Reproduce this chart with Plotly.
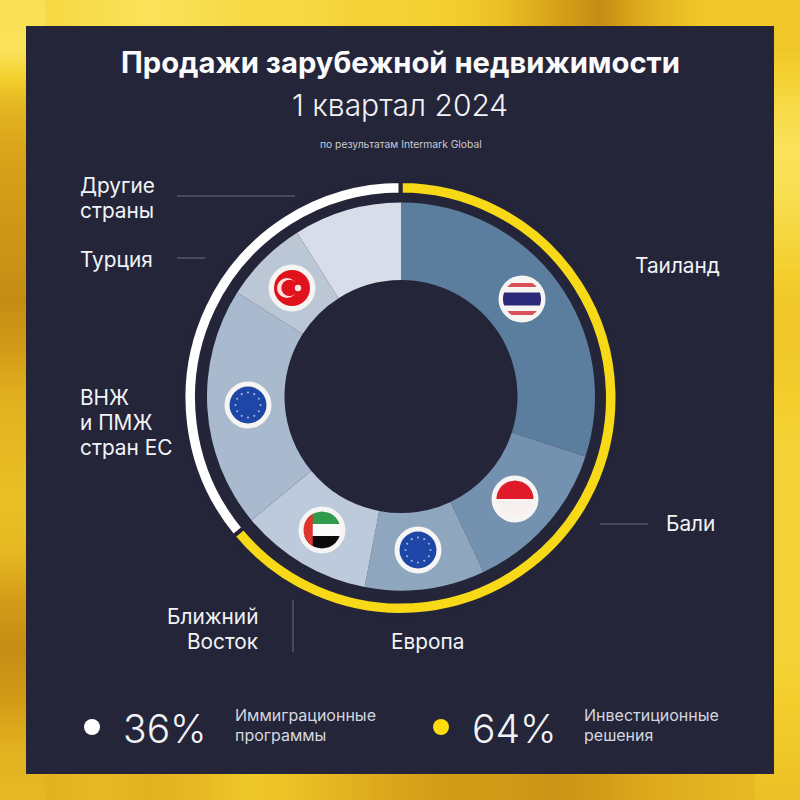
import math
import plotly.graph_objects as go

# ---------- data ----------
segment_names = ["Таиланд", "Бали", "Европа", "Ближний Восток", "ВНЖ и ПМЖ стран ЕС", "Турция", "Другие страны"]
segment_values = [30, 13, 10, 11, 20, 7, 9]
segment_colors = ["#5B7D9E", "#7492B0", "#8FA6BF", "#BCCADB", "#A9BACF", "#BBC7D5", "#D7DEE9"]
ring_names = ["Инвестиционные решения", "Иммиграционные программы"]
ring_values = [64, 36]
ring_colors = ["#F7D917", "#FFFFFF"]

# brightness of the gold frame, read along each edge every 50 px
frame_positions = list(range(0, 801, 50))
frame_top = [.82, .75, .8, .85, .8, .75, .75, .7, .7, .65, .55, .35, .2, .45, .6, .6, .6]
frame_bottom = [.48, .45, .5, .45, .5, .6, .55, .45, .35, .3, .3, .25, .3, .4, .45, .5, .55]
frame_left = [.82, .85, .5, .35, .3, .25, .2, .3, .45, .5, .55, .5, .3, .2, .3, .45, .5]
frame_right = [.6, .6, .75, .85, .8, .7, .6, .6, .65, .7, .7, .7, .7, .7, .65, .6, .55]

PANEL = "#242539"
FONT = "Inter"
TXT = "#F2F3F6"
GOLD_SCALE = [[0, "#A96E0C"], [.35, "#D9A31A"], [.65, "#F3CE2C"], [1, "#FFF27E"]]

fig = go.Figure()


def strip(x, y, z):
    fig.add_trace(go.Heatmap(x=x, y=y, z=z, zmin=0, zmax=1, zsmooth="best", colorscale=GOLD_SCALE,
                             showscale=False, hoverinfo="skip"))


strip(frame_positions, [0, 30], [frame_top, frame_top])
strip(frame_positions, [770, 800], [frame_bottom, frame_bottom])
strip([0, 30], frame_positions, [[v, v] for v in frame_left])
strip([770, 800], frame_positions, [[v, v] for v in frame_right])

# dark panel
fig.add_trace(go.Scatter(x=[26, 774, 774, 26, 26], y=[26, 26, 774, 774, 26], mode="lines", fill="toself",
                         fillcolor=PANEL, line=dict(width=0, color=PANEL), hoverinfo="skip", showlegend=False))


def dom(cx, cy, r):
    return dict(x=[(cx - r) / 800, (cx + r) / 800], y=[1 - (cy + r) / 800, 1 - (cy - r) / 800])


fig.add_trace(go.Pie(labels=segment_names, values=segment_values, sort=False, direction="clockwise", rotation=0,
                     hole=116.5 / 194, domain=dom(401, 396.5, 194), textinfo="none", hoverinfo="label+percent",
                     marker=dict(colors=segment_colors, line=dict(width=0)), showlegend=False))
fig.add_trace(go.Pie(labels=ring_names, values=ring_values, sort=False, direction="clockwise", rotation=0,
                     hole=203.5 / 217, domain=dom(400.5, 398, 217), textinfo="none", hoverinfo="label+percent",
                     marker=dict(colors=ring_colors, line=dict(width=4, color=PANEL)), showlegend=False))

shapes = []


def poly(points, color):
    path = "M" + " L".join(f"{x:.2f},{y:.2f}" for x, y in points) + " Z"
    shapes.append(dict(type="path", path=path, xref="x", yref="y", fillcolor=color, line=dict(width=0), layer="above"))


def circle(cx, cy, r, color):
    shapes.append(dict(type="circle", xref="x", yref="y", x0=cx - r, x1=cx + r, y0=cy - r, y1=cy + r,
                       fillcolor=color, line=dict(width=0), layer="above"))


def band(cx, cy, r, y0, y1, color):
    """Part of a disc lying between two horizontal lines (px offsets from the centre)."""
    steps = 14
    ys = [y0 + (y1 - y0) * i / steps for i in range(steps + 1)]
    right = [(math.sqrt(max(r * r - v * v, 0)), v) for v in ys]
    left = [(-a, b) for a, b in reversed(right)]
    poly([(cx + a, cy + b) for a, b in left + right], color)


def rim(cx, cy):
    circle(cx, cy, 23.5, "#F6F5F3")


# Thailand
cx, cy = 522, 299
rim(cx, cy)
band(cx, cy, 19, -16, -12, "#D9505A")
band(cx, cy, 19, -6.5, 6.5, "#2B2A78")
band(cx, cy, 19, 12, 16, "#D9505A")
# Turkey
cx, cy = 292, 288
rim(cx, cy)
circle(cx, cy, 18, "#E0121C")
circle(cx - 5, cy, 10, "#FBE3E3")
circle(cx - 2.5, cy, 8.2, "#E0121C")
circle(cx + 6, cy, 3.2, "#FBE3E3")
# EU flags
for cx, cy in [(248, 405), (418, 550)]:
    rim(cx, cy)
    circle(cx, cy, 18.5, "#1E46A6")
    for k in range(12):
        a = math.radians(30 * k)
        circle(cx + 12.5 * math.cos(a), cy + 12.5 * math.sin(a), 1.1, "#9DB0D8")
# UAE
cx, cy = 322, 530
rim(cx, cy)
band(cx, cy, 18.5, -18.5, -6, "#2F9A4B")
band(cx, cy, 18.5, -6, 6, "#FAFAFA")
band(cx, cy, 18.5, 6, 18.5, "#0A0A0A")
poly([(cx + 18.5 * math.cos(math.radians(a)), cy + 18.5 * math.sin(math.radians(a))) for a in range(120, 241, 10)],
     "#E0352F")
# Indonesia
cx, cy = 515, 499
rim(cx, cy)
band(cx, cy, 18.5, -18.5, 0, "#DE1A2B")
band(cx, cy, 18.5, 0, 18.5, "#F7F2F0")

# leader lines
for x0, y0, x1, y1 in [(177, 196, 295, 196), (177, 258, 205, 258), (600, 524, 648, 524), (293, 600, 293, 652)]:
    shapes.append(dict(type="line", xref="x", yref="y", x0=x0, y0=y0, x1=x1, y1=y1, layer="above",
                       line=dict(color="#6C6E80", width=1)))
# legend dots
circle(92, 727, 8, "#FFFFFF")
circle(441, 727, 8, "#FFDD0A")

ann = []


def text(x, y, s, size, anchor="left", weight=400, color=TXT):
    ann.append(dict(x=x, y=y, xref="x", yref="y", text=s, showarrow=False, xanchor=anchor, yanchor="middle",
                    font=dict(family=FONT, size=size, color=color, weight=weight)))


text(400.5, 62, "Продажи зарубежной недвижимости", 29.2, "center", 700, "#FBFBFC")
text(400, 105, "1 квартал 2024", 30, "center", 300)
text(401, 144, "по результатам Intermark Global", 10.3, "center", 400, "#C9CBD4")

for x, y, s in [(78, 185, "Другие"), (78, 210, "страны"), (78, 259, "Турция"),
                (78, 397, "ВНЖ"), (78, 422, "и ПМЖ"), (78, 447, "стран ЕС"),
                (633, 265, "Таиланд"), (664, 523, "Бали"), (389, 641, "Европа")]:
    text(x, y, s, 20.8)
text(260, 616, "Ближний", 20.8, "right")
text(260, 641, "Восток", 20.8, "right")

text(121, 728, "36%", 39, "left", 300)
text(470, 728, "64%", 39, "left", 300)
text(233, 714.5, "Иммиграционные", 16, color="#D5D7DF")
text(233, 735, "программы", 16, color="#D5D7DF")
text(582, 714.5, "Инвестиционные", 16, color="#D5D7DF")
text(582, 735, "решения", 16, color="#D5D7DF")

fig.update_layout(width=800, height=800, margin=dict(l=0, r=0, t=0, b=0), paper_bgcolor="#E3B020",
                  plot_bgcolor="#E3B020", showlegend=False, shapes=shapes, annotations=ann,
                  xaxis=dict(range=[0, 800], visible=False, fixedrange=True),
                  yaxis=dict(range=[800, 0], visible=False, fixedrange=True))
fig.write_html("out.html", config={"displayModeBar": False},
               post_script="document.body.style.margin='0';document.documentElement.style.overflow='hidden';")
